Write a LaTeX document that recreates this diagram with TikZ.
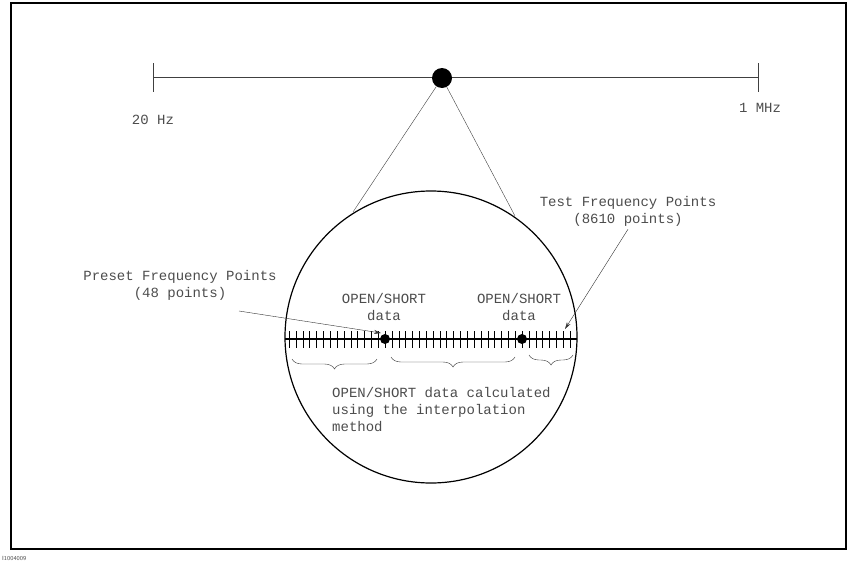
\documentclass[tikz,border=0pt]{standalone}
\usepackage{fontspec}
\setmonofont{Liberation Mono}
\usetikzlibrary{arrows.meta,decorations.pathreplacing,positioning}
\tikzset{
  hplabel/.style={font=\ttfamily\fontsize{14}{17}\selectfont, text=black!70, inner sep=0pt, align=center},
  ptr/.style={thin, black!80, -{Stealth[length=7pt,width=4pt]}},
  underbrc/.style={thin, black!80, decorate, decoration={brace,mirror,amplitude=10pt}},
  bigdot/.style={circle, fill, inner sep=0pt, minimum size=#1},
}

\begin{document}
\begin{tikzpicture}[x=1pt,y=-1pt]
\useasboundingbox (0,0) rectangle (848,562);
\draw[line width=1.6pt] (11,3) rectangle (846,549);
% frequency range
\coordinate (lo) at (153,77);
\coordinate (hi) at (758,77);
\draw[black!75, thin] (lo) -- (hi) (153,63) -- (153,92) (758,63) -- (758,92);
\node[hplabel] (lolbl) at (153,120) {20 Hz};
\node[hplabel] (hilbl) at (760,108) {1 MHz};
\node[bigdot=20pt] (spot) at (442,78) {};
% magnified view
\coordinate (ctr) at (431,337);
\draw[line width=1.2pt] (ctr) circle (146);
\coordinate (tl) at (353,212);
\coordinate (tr) at (515,216);
\draw[black!75, thin] (tl) -- (spot) -- (tr);
\coordinate (axl) at (285,339);
\coordinate (axr) at (577,339);
\draw[line width=1.4pt] (axl) -- (axr);
\foreach \k in {-14,...,27}
  \draw[thin] (385+\k*6.85,331) -- ++(0,17);
\node[bigdot=10pt] (pa) at (385,339) {};
\node[bigdot=10pt] (pb) at (522,339) {};
\node[hplabel] (osa) at (384,307) {OPEN/SHORT\\data};
\node[hplabel] (osb) at (519,307) {OPEN/SHORT\\data};
% point labels
\node[hplabel] (preset) at (180,285) {Preset Frequency Points\\(48 points)};
\node[hplabel] (test) at (628,211) {Test Frequency Points\\(8610 points)};
\coordinate (pfrom) at (239,311);
\coordinate (ptip) at (381,333);
\coordinate (ttip) at (565,329);
\draw[ptr] (pfrom) -- (ptip);
\draw[ptr] ([yshift=-3pt]test.south) -- (ttip);
% interpolated segments
\draw[underbrc] (292,359) -- (377,359);
\draw[underbrc] (391,357) -- (515,357);
\draw[underbrc] (529,355) -- (573,355);
\node[hplabel, align=left, anchor=west] (interp) at (332,410)
  {OPEN/SHORT data calculated\\using the interpolation\\method};
\node[font=\sffamily\fontsize{6}{6}\selectfont, text=black!70, inner sep=0pt, anchor=west] (figid) at (2,558) {I1004009};
\end{tikzpicture}
\end{document}
